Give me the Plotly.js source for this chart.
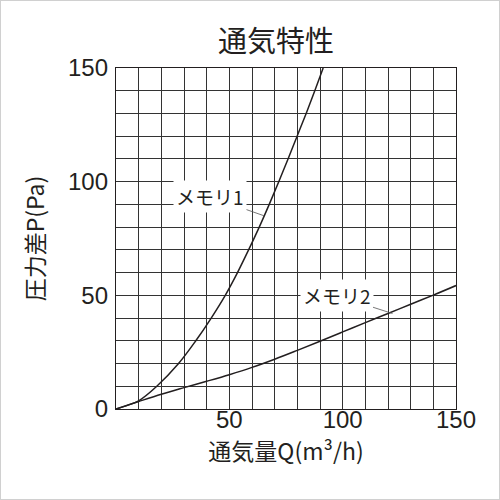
<!DOCTYPE html>
<html>
<head>
<meta charset="utf-8">
<script src="https://cdn.plot.ly/plotly-3.0.1.min.js"></script>
<style>
html,body{margin:0;padding:0;background:#fff;}
#chart{width:498px;height:498px;border:1px solid #d0d0d0;}
</style>
</head>
<body>
<div id="chart"></div>
<script>
// メモリ1 curve (Q: 通気量, P: 圧力差)
const memo1Q = [0, 5, 10, 18, 27.6, 35.2, 42, 48.2, 53.6, 58.5, 63.2, 67.6, 71.8, 75.9, 79.9, 83.9, 87.7, 91.4];
const memo1P = [0, 1.6, 3.6, 10, 20, 30, 40, 50, 60, 70, 80, 90, 100, 110, 120, 130, 140, 150];
// メモリ2 curve
const memo2Q = [0, 10, 20, 30, 40, 50, 60, 70, 80, 90, 100, 110, 120, 130, 140, 150];
const memo2P = [0, 3.3, 6.5, 9.4, 12.2, 15.1, 18.3, 21.9, 25.8, 29.8, 33.9, 38, 42, 46.1, 50.1, 54.3];

const xTickVals = [50, 100, 150];
const xTickText = ["50", "100", "150"];
const yTickVals = [0, 50, 100, 150];
const yTickText = ["0", "50", "100", "150"];
const seriesNames = ["メモリ1", "メモリ2"];

const ink = "#231f20";
const font = "Liberation Sans, Arial, sans-serif";
const cjk = "Noto Sans CJK JP, sans-serif";

const traces = [
  {x: memo1Q, y: memo1P, mode: "lines", name: seriesNames[0],
   line: {color: ink, width: 1.5, shape: "spline", smoothing: 1}},
  {x: memo2Q, y: memo2P, mode: "lines", name: seriesNames[1],
   line: {color: ink, width: 1.5, shape: "spline", smoothing: 1}}
];

const axisCommon = {
  range: [0, 150],
  showgrid: true, gridcolor: "#333", gridwidth: 1,
  minor: {dtick: 10, tick0: 0, showgrid: true, gridcolor: "#333", gridwidth: 1, ticks: ""},
  showline: true, linecolor: ink, linewidth: 1.2, mirror: true,
  ticks: "", zeroline: false, fixedrange: true,
  tickfont: {family: font, size: 24, color: ink}
};

const layout = {
  width: 498, height: 498,
  margin: {l: 115, r: 43, t: 67, b: 90},
  paper_bgcolor: "#fff", plot_bgcolor: "#fff",
  showlegend: false,
  title: {text: "通気特性", font: {family: cjk, size: 29, color: ink}, xref: "container", x: 0.552, xanchor: "center", y: 0.918, yanchor: "middle"},
  xaxis: Object.assign({}, axisCommon, {
    tickvals: xTickVals, ticktext: xTickText,
    title: {text: "通気量Q(m³/h)", font: {family: cjk, size: 23, color: ink}, standoff: 10},
    ticklabelstandoff: -11
  }),
  yaxis: Object.assign({}, axisCommon, {
    tickvals: yTickVals, ticktext: yTickText,
    title: {text: "圧力差P(Pa)", font: {family: cjk, size: 23, color: ink}, standoff: 17},
    ticklabelstandoff: 2
  }),
  annotations: [
    {x: 65.3, y: 85, xref: "x", yref: "y", text: seriesNames[0], showarrow: true,
     arrowhead: 0, arrowwidth: 0.8, arrowcolor: "#555", ax: -54, ay: -19,
     bgcolor: "#fff", borderpad: 2, font: {family: cjk, size: 19, color: ink}},
    {x: 122, y: 42, xref: "x", yref: "y", text: seriesNames[1], showarrow: true,
     arrowhead: 0, arrowwidth: 0.8, arrowcolor: "#555", ax: -56, ay: -18,
     bgcolor: "#fff", borderpad: 2, font: {family: cjk, size: 19, color: ink}}
  ]
};

Plotly.newPlot("chart", traces, layout, {displayModeBar: false, staticPlot: true});
</script>
</body>
</html>
